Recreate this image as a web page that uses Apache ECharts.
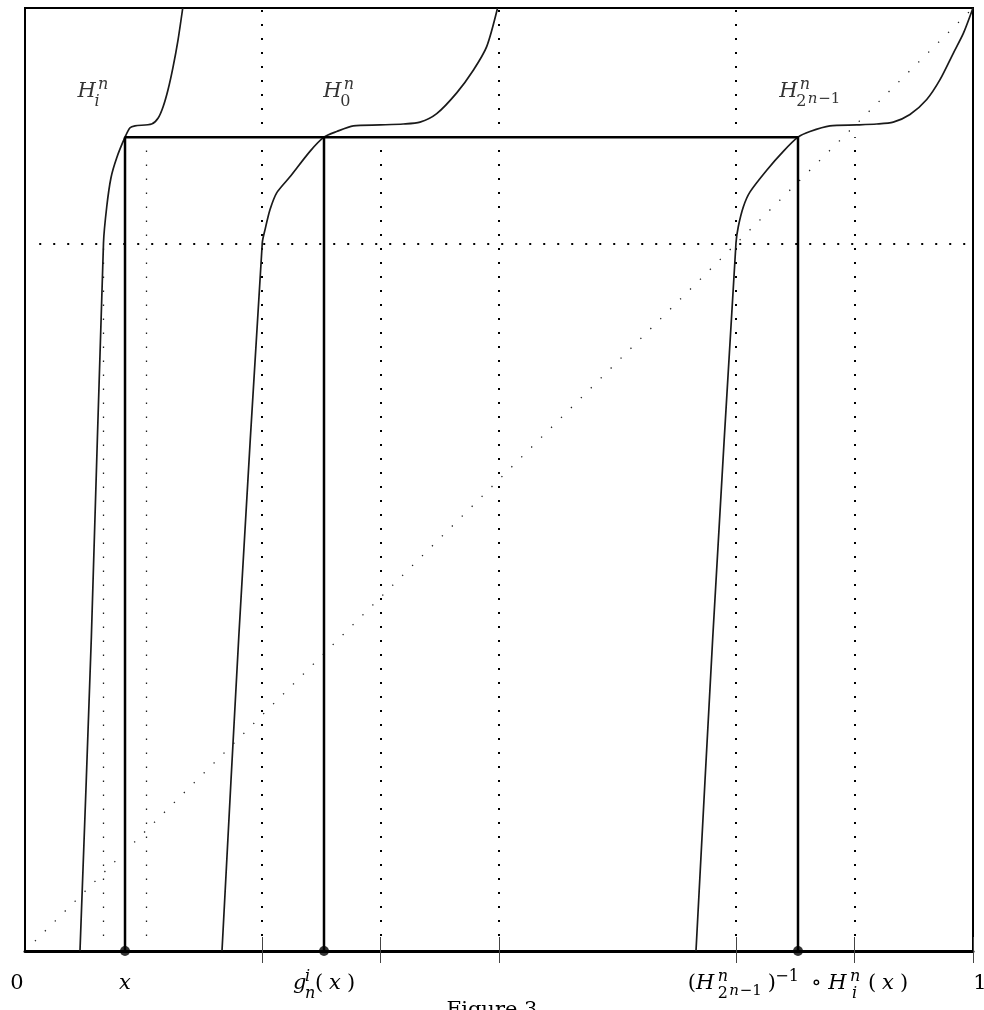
<!DOCTYPE html>
<html>
<head>
<meta charset="utf-8">
<script src="https://cdn.jsdelivr.net/npm/echarts@6/dist/echarts.min.js"></script>
<style>
  html, body { margin: 0; padding: 0; background: #fff; }
  #main { width: 984px; height: 1010px; }
</style>
</head>
<body>
<div id="main"></div>
<script>
// curves, [x, y] in the unit square
const hiCurve = [[0.058, 0], [0.070, 0.333], [0.0828, 0.751], [0.0862, 0.789], [0.0907, 0.82], [0.0967, 0.841],
  [0.1055, 0.863], [0.1108, 0.873], [0.116, 0.875], [0.1336, 0.877], [0.1403, 0.883], [0.1456, 0.895],
  [0.1508, 0.913], [0.1561, 0.937], [0.1614, 0.966], [0.1664, 1]];
const h0Curve = [[0.2078, 0], [0.2255, 0.333], [0.2503, 0.751], [0.2532, 0.765], [0.2584, 0.786], [0.2655, 0.804],
  [0.2795, 0.821], [0.3006, 0.848], [0.3154, 0.863], [0.3288, 0.869], [0.3463, 0.875], [0.3745, 0.876],
  [0.399, 0.877], [0.4167, 0.879], [0.4343, 0.888], [0.4554, 0.91], [0.4729, 0.934], [0.487, 0.959], [0.4985, 1]];
const hLastCurve = [[0.7078, 0], [0.7255, 0.333], [0.75, 0.751], [0.7524, 0.768], [0.7577, 0.789], [0.7648, 0.805],
  [0.7824, 0.828], [0.7999, 0.848], [0.8154, 0.863], [0.828, 0.869], [0.8491, 0.875], [0.8773, 0.876],
  [0.8984, 0.877], [0.9159, 0.879], [0.9335, 0.887], [0.9512, 0.903], [0.9652, 0.924], [0.9792, 0.952],
  [0.9898, 0.973], [1, 1]];

// the marked points on the axis and the level they map to
const markedX = [0.1055, 0.3154, 0.8154];
const kneeY = 0.863;

// dotted guides: [x, yFrom, yTo] and [y, xFrom, xTo]
const heavyDotsV = [[0.25, 0.016, 1], [0.375, 0.016, 0.863], [0.5, 0.016, 1], [0.75, 0.016, 1], [0.875, 0.016, 0.863]];
const heavyDotsH = [[0.75, 0.015, 1]];
const lightDotsV = [[0.083, 0.016, 0.75], [0.1276, 0.016, 0.863]];
const diagonal = [[0.0105, 0.0105], [1, 1]];

// axis ticks and labels
const tickValues = [0.25, 0.375, 0.5, 0.75, 0.875, 1];
const labelValues = [0, 0.1055, 0.3154, 0.8154, 1];
const labelTexts = [
  '{z|0}',
  '{mi|x}',
  '{g|g}{sp10|i}{lpw|(}{xw|x}{rm|)}\n{s12|\u00a0}{sb|n}',
  '{par|(}{Hw|H}{spw|n}{rpar|)}{spm|\u22121}{s6|\u00a0}{op|\u2218}{Hw|H}{sp17|n}{lpw|(}{xw|x}{rm|)}' +
    '\n{s30|\u00a0}{sb2|2}{sspn|n}{sspr|\u22121}{s93|\u00a0}{sb|i}',
  '{o|1}'
];

// curve names, anchored at the top-left of each name
const nameAnchors = [[0.0555, 0.9194], [0.3145, 0.9194], [0.7955, 0.9194]];
const nameTexts = [
  '{H|H}{sp|n}\n{s17|\u00a0}{sb|i}',
  '{H|H}{sp|n}\n{s17|\u00a0}{sbr|0}',
  '{H|H}{sp|n}\n{s17|\u00a0}{sb2|2}{sspn|n}{sspr|\u22121}'
];

const serif = "'DejaVu Serif', serif";
const big = 21, small = 16, tiny = 15;
const txt = (size, italic, extra) => Object.assign({
  fontFamily: serif, fontSize: size, fontStyle: italic ? 'italic' : 'normal', color: '#000', align: 'left'
}, extra);
const gap = (w) => ({ fontSize: 1, lineHeight: 1, height: 1, width: w, align: 'left' });
const sup = { lineHeight: 2, height: 2, verticalAlign: 'top' };
const rich = {
  rm: txt(big, false, { lineHeight: 15 }),
  mi: txt(big, true, { lineHeight: 15 }),
  g: txt(big, true, { lineHeight: 15, width: 12 }),
  xw: txt(big, true, { lineHeight: 15, width: 18 }),
  lpw: txt(big, false, { lineHeight: 15, width: 14 }),
  H: txt(big, true, { lineHeight: 15, width: 20.5 }),
  Hw: txt(big, true, { lineHeight: 15, width: 21.7 }),
  par: txt(big, false, { lineHeight: 15, width: 8.3 }),
  rpar: txt(big, false, { lineHeight: 15, width: 7.5 }),
  op: txt(big, false, { lineHeight: 15, width: 17 }),
  z: txt(big, false, { lineHeight: 15, padding: [0, 16, 0, 0] }),
  o: txt(big, false, { lineHeight: 15, padding: [0, 0, 0, 14] }),
  sp: txt(small, true, sup),
  sp10: txt(small, true, Object.assign({ width: 10 }, sup)),
  sp17: txt(small, true, Object.assign({ width: 18 }, sup)),
  spw: txt(small, true, Object.assign({ width: 50 }, sup)),
  spm: txt(small, false, Object.assign({ width: 30 }, sup)),
  sb: txt(small, true, { lineHeight: 5, height: 5, verticalAlign: 'top' }),
  sbr: txt(small, false, { lineHeight: 5, height: 5, verticalAlign: 'top' }),
  sb2: txt(small, false, { lineHeight: 6, height: 6, verticalAlign: 'top', width: 11.5 }),
  sspn: txt(tiny, true, { lineHeight: 1, height: 1, verticalAlign: 'top', width: 10.5 }),
  sspr: txt(tiny, false, { lineHeight: 1, height: 1, verticalAlign: 'top', width: 20 }),
  s6: gap(6), s12: gap(12), s17: gap(17), s30: gap(30), s93: gap(92.3)
};

const segV = (list) => list.map(d => ({ coords: [[d[0], d[1]], [d[0], d[2]]] }));
const segH = (list) => list.map(d => ({ coords: [[d[1], d[0]], [d[2], d[0]]] }));

const chart = echarts.init(document.getElementById('main'));

const curve = (data) => ({
  type: 'line',
  data: data,
  smooth: 0.25,
  symbol: 'none',
  lineStyle: { color: '#1a1a1a', width: 1.7 },
  z: 3
});

const option = {
  animation: false,
  backgroundColor: '#fff',
  title: {
    text: 'Figure 3',
    left: 'center',
    top: 995,
    textStyle: { fontFamily: serif, fontSize: big, fontWeight: 'normal', color: '#000' }
  },
  grid: {
    left: 25, right: 11, top: 8, bottom: 59,
    outerBoundsMode: 'none', containLabel: false,
    show: true, borderColor: '#000', borderWidth: 2
  },
  xAxis: [
    {
      type: 'value', min: 0, max: 1, position: 'bottom',
      axisLine: { show: true, lineStyle: { color: '#000', width: 3 } },
      axisTick: { show: true, customValues: tickValues, length: 12, lineStyle: { color: '#444', width: 1 } },
      axisLabel: {
        customValues: labelValues,
        showMinLabel: true, showMaxLabel: true,
        margin: 25, verticalAlign: 'top',
        formatter: (v) => {
          const k = labelValues.findIndex(u => Math.abs(u - v) < 1e-6);
          return k < 0 ? '' : labelTexts[k];
        },
        rich: rich
      },
      splitLine: { show: false }
    },
    {
      type: 'value', min: 0, max: 1, position: 'bottom',
      axisLine: { show: false },
      axisTick: { show: true, inside: true, customValues: tickValues, length: 14, lineStyle: { color: '#444', width: 1 } },
      axisLabel: { show: false },
      splitLine: { show: false }
    }
  ],
  yAxis: {
    type: 'value', min: 0, max: 1,
    axisLine: { show: false }, axisTick: { show: false },
    axisLabel: { show: false }, splitLine: { show: false }
  },
  series: [
    {
      type: 'lines', coordinateSystem: 'cartesian2d',
      data: segV(heavyDotsV).concat(segH(heavyDotsH)),
      lineStyle: { color: '#000', width: 2, type: [2, 12], cap: 'butt', opacity: 1 },
      z: 2
    },
    {
      type: 'lines', coordinateSystem: 'cartesian2d',
      data: segV(lightDotsV).concat([{ coords: diagonal }]),
      lineStyle: { color: '#222', width: 1.3, type: [1.3, 12.7], cap: 'butt', opacity: 1 },
      z: 2
    },
    curve(hiCurve),
    curve(h0Curve),
    curve(hLastCurve),
    {
      type: 'line',
      data: [[markedX[0], 0], [markedX[0], kneeY], [markedX[2], kneeY], [markedX[2], 0]],
      symbol: 'none',
      lineStyle: { color: '#000', width: 2.5 },
      z: 4
    },
    {
      type: 'line',
      data: [[markedX[1], 0], [markedX[1], kneeY]],
      symbol: 'none',
      lineStyle: { color: '#000', width: 2.5 },
      z: 4
    },
    {
      type: 'scatter',
      data: markedX.map(x => [x, 0]),
      symbol: 'circle', symbolSize: 10,
      itemStyle: { color: '#000' },
      clip: false,
      z: 5
    },
    {
      type: 'scatter',
      data: nameAnchors,
      symbolSize: 0,
      label: {
        show: true, position: [0, 0], align: 'left', verticalAlign: 'top',
        formatter: (p) => nameTexts[p.dataIndex],
        rich: rich
      },
      z: 6
    }
  ]
};

chart.setOption(option);
</script>
</body>
</html>
